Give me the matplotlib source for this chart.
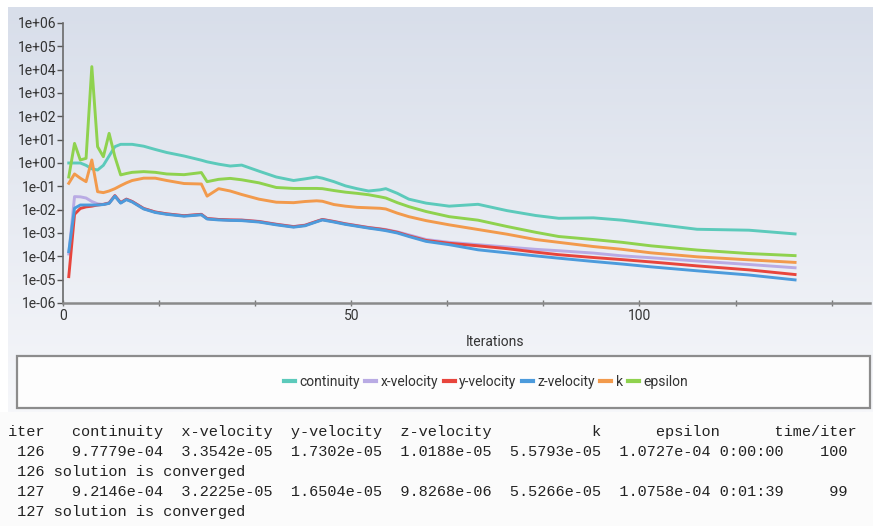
import numpy as np
import matplotlib
matplotlib.use("Agg")
import matplotlib.pyplot as plt
from matplotlib.lines import Line2D
from matplotlib.patches import Rectangle
from matplotlib.ticker import FixedLocator, LogLocator, FuncFormatter, NullFormatter

# residual history (log10 of the residual)
iterations = [1, 2, 3, 4, 5, 6, 7, 8, 9, 10, 11, 12,
              14, 16, 18, 21, 24, 25, 27, 29, 31,
              34, 37, 40, 42, 44, 45, 47, 49, 51, 53, 55, 56, 58, 60,
              63, 67, 72, 77, 82, 86, 92, 97, 102, 110, 119, 127]

continuity_exp = [0.0, 0.0, 0.0, -0.1, -0.25, -0.3, -0.1, 0.3, 0.7, 0.8, 0.8, 0.8,
                  0.72, 0.58, 0.45, 0.3, 0.12, 0.05, -0.05, -0.13, -0.09,
                  -0.35, -0.6, -0.75, -0.68, -0.6, -0.65, -0.8, -0.98, -1.1, -1.2, -1.15, -1.1, -1.3, -1.55,
                  -1.72, -1.85, -1.77, -2.04, -2.25, -2.37, -2.35, -2.45, -2.6, -2.84, -2.88, -3.04]
xvel_exp = [-3.9, -1.44, -1.45, -1.5, -1.65, -1.75, -1.78, -1.7, -1.4, -1.7, -1.55, -1.65,
            -1.95, -2.1, -2.18, -2.26, -2.2, -2.38, -2.42, -2.44, -2.44,
            -2.5, -2.62, -2.72, -2.66, -2.5, -2.42, -2.5, -2.6, -2.68, -2.76, -2.82, -2.85, -2.95, -3.08,
            -3.28, -3.4, -3.5, -3.6, -3.7, -3.76, -3.86, -3.98, -4.06, -4.2, -4.35, -4.49]
yvel_exp = [-4.87, -2.2, -1.95, -1.88, -1.85, -1.8, -1.77, -1.72, -1.4, -1.7, -1.55, -1.65,
            -1.95, -2.1, -2.18, -2.26, -2.2, -2.38, -2.42, -2.44, -2.45,
            -2.51, -2.63, -2.73, -2.67, -2.5, -2.42, -2.51, -2.61, -2.69, -2.77, -2.83, -2.87, -2.97, -3.12,
            -3.32, -3.44, -3.55, -3.67, -3.82, -3.93, -4.05, -4.14, -4.24, -4.41, -4.58, -4.78]
zvel_exp = [-3.8, -1.94, -1.8, -1.8, -1.8, -1.8, -1.78, -1.73, -1.42, -1.72, -1.57, -1.67,
            -1.97, -2.12, -2.2, -2.28, -2.22, -2.4, -2.44, -2.46, -2.47,
            -2.53, -2.65, -2.75, -2.69, -2.52, -2.44, -2.53, -2.63, -2.71, -2.79, -2.86, -2.9, -3.0, -3.15,
            -3.36, -3.5, -3.72, -3.85, -3.98, -4.08, -4.22, -4.33, -4.45, -4.62, -4.8, -5.01]
k_exp = [-0.87, -0.47, -0.65, -0.8, 0.13, -1.23, -1.27, -1.2, -1.1, -0.97, -0.85, -0.75,
         -0.65, -0.65, -0.75, -0.88, -0.9, -1.42, -1.1, -1.2, -1.35,
         -1.55, -1.68, -1.7, -1.65, -1.62, -1.64, -1.78, -1.85, -1.9, -1.92, -1.94, -1.97, -2.15, -2.3,
         -2.47, -2.65, -2.85, -3.05, -3.28, -3.4, -3.58, -3.7, -3.85, -4.02, -4.15, -4.26]
epsilon_exp = [-0.6, 0.84, 0.13, 0.2, 4.13, 0.7, 0.27, 1.27, 0.27, -0.51, -0.45, -0.4,
               -0.37, -0.4, -0.47, -0.5, -0.41, -0.8, -0.7, -0.66, -0.72,
               -0.85, -1.05, -1.09, -1.09, -1.09, -1.1, -1.18, -1.25, -1.3, -1.36, -1.45, -1.5, -1.7, -1.87,
               -2.08, -2.3, -2.45, -2.72, -2.97, -3.15, -3.28, -3.4, -3.55, -3.73, -3.88, -3.97]

series_names = ["continuity", "x-velocity", "y-velocity", "z-velocity", "k", "epsilon"]
series_exp = [continuity_exp, xvel_exp, yvel_exp, zvel_exp, k_exp, epsilon_exp]
colors = ["#5ccabb", "#b9abe4", "#e8453c", "#4c9bdc", "#f29a4c", "#8fd24e"]

# console lines under the chart
console_lines = [
    "iter   continuity  x-velocity  y-velocity  z-velocity           k      epsilon      time/iter",
    " 126   9.7779e-04  3.3542e-05  1.7302e-05  1.0188e-05  5.5793e-05  1.0727e-04 0:00:00    100",
    " 126 solution is converged",
    " 127   9.2146e-04  3.2225e-05  1.6504e-05  9.8268e-06  5.5266e-05  1.0758e-04 0:01:39     99",
    " 127 solution is converged",
]

W, H = 873, 526
fig = plt.figure(figsize=(W / 100, H / 100), dpi=100, facecolor="white")
sans = ["Roboto", "DejaVu Sans"]

# background panel with vertical gradient
bg = fig.add_axes([0, 0, 1, 1], zorder=-5)
bg.set_xlim(0, W)
bg.set_ylim(H, 0)
bg.axis("off")
top = np.array([216, 222, 234]) / 255
bot = np.array([246, 247, 250]) / 255
t = np.linspace(0, 1, 200)[:, None]
grad = (top[None, :] * (1 - t) + bot[None, :] * t)[:, None, :]
bg.imshow(grad, extent=(8, W, 412, 7), aspect="auto", interpolation="bilinear")
bg.add_patch(Rectangle((0, 412), W, H - 412, facecolor="#fbfbfb", edgecolor="none"))
bg.add_patch(Rectangle((17, 356), 853, 52, facecolor="#fdfdfd", edgecolor="#8c8c8c", lw=1.6))

ax = fig.add_axes([63 / W, 1 - 303 / H, (870 - 63) / W, (303 - 23) / H])
ax.set_facecolor("none")
for name, ex, c in zip(series_names, series_exp, colors):
    ax.plot(iterations, 10.0 ** np.array(ex), color=c, lw=2.1, label=name,
            solid_joinstyle="round")

ax.set_yscale("log")
ax.set_ylim(1e-6, 1e6)
ax.set_xlim(0, 140)
ax.yaxis.set_major_locator(FixedLocator([10.0 ** e for e in range(-6, 7)]))
ax.yaxis.set_major_formatter(FuncFormatter(lambda v, p: "1e%+03d" % round(np.log10(v))))
ax.yaxis.set_minor_locator(LogLocator(base=10, subs=np.arange(2, 10)))
ax.yaxis.set_minor_formatter(NullFormatter())
ax.set_xticks([0, 50, 100])
ax.set_xticks([50 / 3 * i for i in range(9)], minor=True)

for s in ["top", "right"]:
    ax.spines[s].set_visible(False)
ax.spines["left"].set_color("#6a6a6a")
ax.spines["bottom"].set_color("#8a8a8a")
ax.spines["left"].set_linewidth(1.2)
ax.spines["bottom"].set_linewidth(1.8)
ax.tick_params(axis="y", which="major", length=4, width=1, color="#555555",
               labelsize=10, pad=1, labelcolor="#333333")
ax.tick_params(axis="y", which="minor", length=2, width=0.8, color="#666666")
ax.tick_params(axis="x", which="both", direction="inout", length=4, width=1,
               color="#777777", labelsize=10, pad=2, labelcolor="#333333")
for lbl in ax.get_xticklabels() + ax.get_yticklabels():
    lbl.set_family(sans)

fig.text(495 / W, 1 - 342 / H, "Iterations", ha="center", va="center",
         fontsize=10, color="#333333", family=sans)

handles = [Line2D([], [], color=c, lw=3) for c in colors]
fig.legend(handles, series_names, loc="center", bbox_to_anchor=(486 / W, 1 - 382 / H),
           ncol=6, frameon=False, handlelength=0.8, handletextpad=0.3,
           columnspacing=0.4, prop={"family": sans, "size": 10},
           labelcolor="#333333")

y0 = 432
for i, line in enumerate(console_lines):
    fig.text(8 / W, 1 - (y0 + 20 * i) / H, line, ha="left", va="center",
             family="Liberation Mono", fontsize=11, color="#222222")

fig.savefig("out.png", dpi=100, facecolor=fig.get_facecolor())
